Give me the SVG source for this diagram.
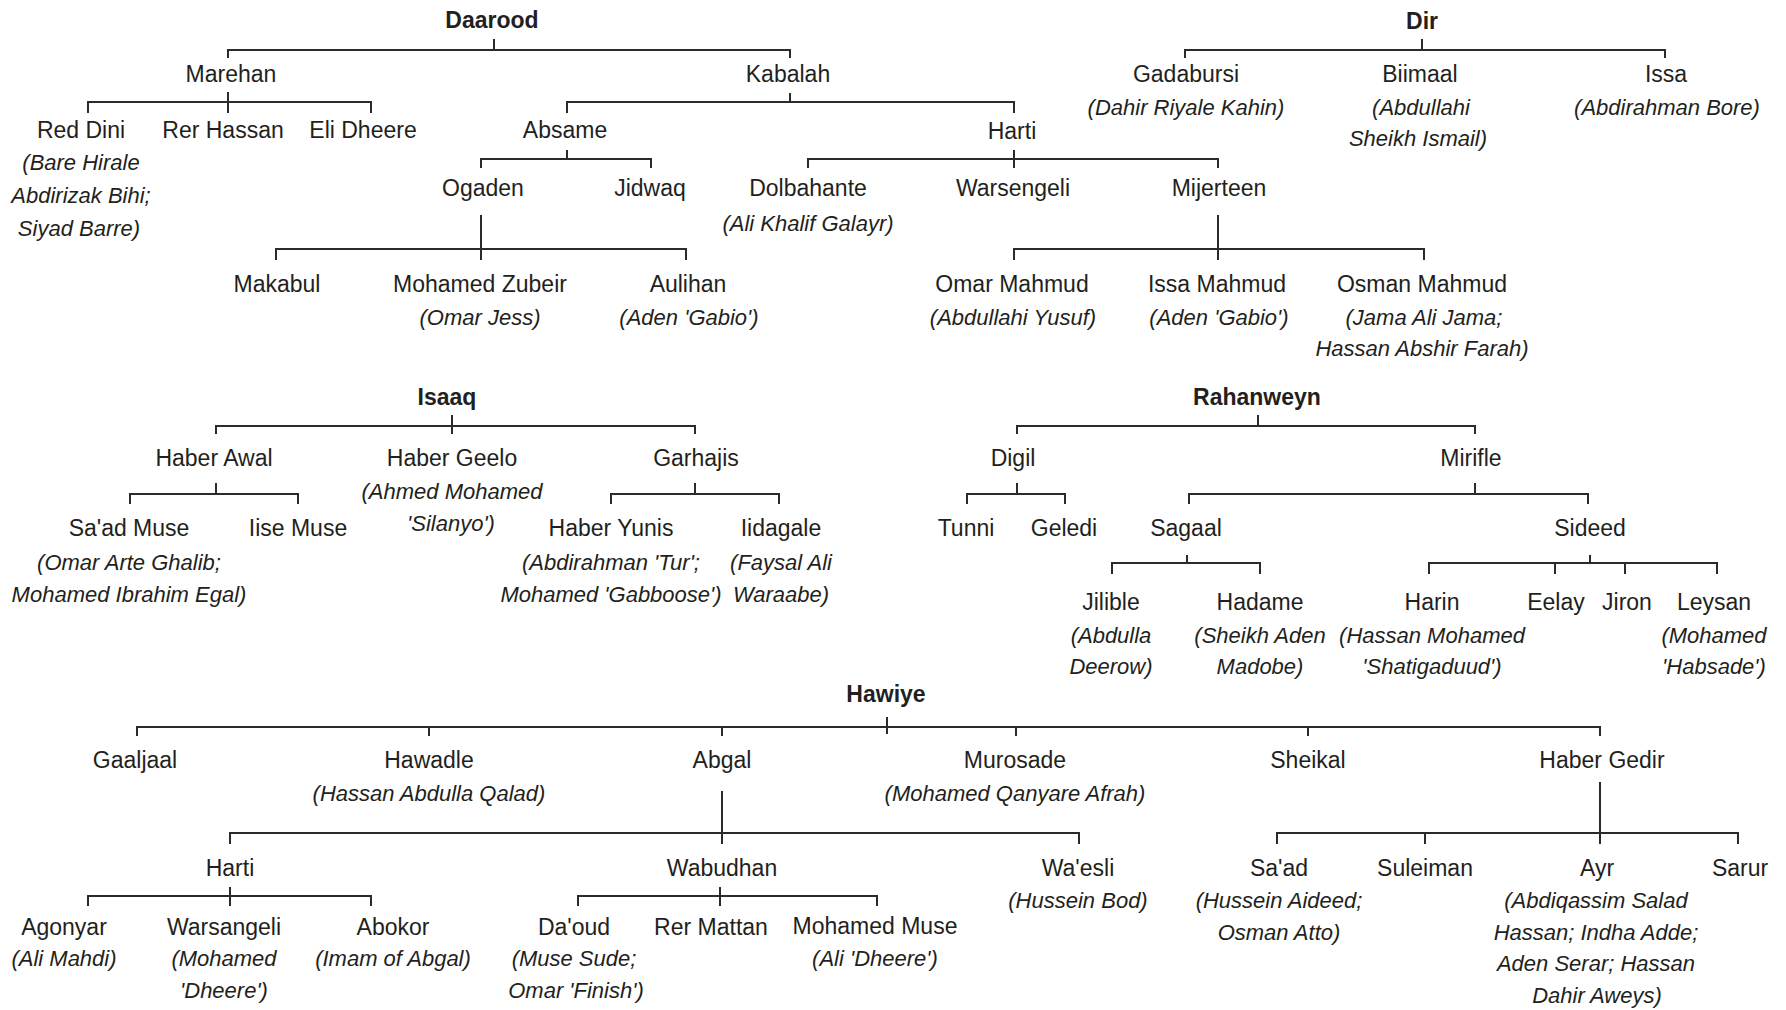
<svg xmlns="http://www.w3.org/2000/svg" width="1786" height="1010" viewBox="0 0 1786 1010">
<style>
text{font-family:"Liberation Sans",Arial,sans-serif;fill:#231f20;text-anchor:middle}
.n{font-size:23px}
.i{font-size:22px;font-style:italic}
.b{font-size:23px;font-weight:bold}
#connectors path{fill:none;stroke:#2b2b2b;stroke-width:2}
</style>
<rect width="1786" height="1010" fill="#fff"/>
<g id="connectors">
<path d="M494 39V50M228 58V50H790V58"/>
<path d="M228 92V113M88 113V102H371V113"/>
<path d="M790 93V102M567 113V102H1014V113"/>
<path d="M567 150V159M481 168V159H651V168"/>
<path d="M1014 150V168M808 168V159H1218V168"/>
<path d="M481 215V260M276 260V249H686V260"/>
<path d="M1218 215V260M1014 260V249H1424V260"/>
<path d="M1422 39V50M1185 58V50H1665V58"/>
<path d="M452 415V434M216 434V426H695V434"/>
<path d="M216 483V494M130 504V494H298V504"/>
<path d="M695 483V494M611 504V494H779V504"/>
<path d="M1258 415V426M1017 434V426H1475V434"/>
<path d="M1017 483V494M967 504V494H1065V504"/>
<path d="M1475 483V494M1189 504V494H1588V504"/>
<path d="M1187 555V563M1112 574V563H1260V574"/>
<path d="M1590 555V563M1429 574V563H1717V574M1555 563V574M1625 563V574"/>
<path d="M887 717V734M137 736V727H1600V736M429 727V736M722 727V736M1016 727V736M1308 727V736"/>
<path d="M722 791V844M230 844V833H1079V844"/>
<path d="M230 887V906M88 906V896H371V906"/>
<path d="M720 887V906M578 906V896H877V906"/>
<path d="M1600 782V844M1277 844V833H1738V844M1425 833V844"/>
</g>
<g id="daarood"><text class="b" x="492" y="28">Daarood</text></g>
<g id="marehan"><text class="n" x="231" y="82">Marehan</text></g>
<g id="kabalah"><text class="n" x="788" y="82">Kabalah</text></g>
<g id="red-dini"><text class="n" x="81" y="138">Red Dini</text><text class="i" x="81" y="170">(Bare Hirale</text><text class="i" x="81" y="203">Abdirizak Bihi;</text><text class="i" x="79" y="236">Siyad Barre)</text></g>
<g id="rer-hassan"><text class="n" x="223" y="138">Rer Hassan</text></g>
<g id="eli-dheere"><text class="n" x="363" y="138">Eli Dheere</text></g>
<g id="absame"><text class="n" x="565" y="138">Absame</text></g>
<g id="harti"><text class="n" x="1012" y="139">Harti</text></g>
<g id="ogaden"><text class="n" x="483" y="196">Ogaden</text></g>
<g id="jidwaq"><text class="n" x="650" y="196">Jidwaq</text></g>
<g id="dolbahante"><text class="n" x="808" y="196">Dolbahante</text><text class="i" x="808" y="231">(Ali Khalif Galayr)</text></g>
<g id="warsengeli"><text class="n" x="1013" y="196">Warsengeli</text></g>
<g id="mijerteen"><text class="n" x="1219" y="196">Mijerteen</text></g>
<g id="makabul"><text class="n" x="277" y="292">Makabul</text></g>
<g id="mohamed-zubeir"><text class="n" x="480" y="292">Mohamed Zubeir</text><text class="i" x="480" y="325">(Omar Jess)</text></g>
<g id="aulihan"><text class="n" x="688" y="292">Aulihan</text><text class="i" x="689" y="325">(Aden 'Gabio')</text></g>
<g id="omar-mahmud"><text class="n" x="1012" y="292">Omar Mahmud</text><text class="i" x="1013" y="325">(Abdullahi Yusuf)</text></g>
<g id="issa-mahmud"><text class="n" x="1217" y="292">Issa Mahmud</text><text class="i" x="1219" y="325">(Aden 'Gabio')</text></g>
<g id="osman-mahmud"><text class="n" x="1422" y="292">Osman Mahmud</text><text class="i" x="1424" y="325">(Jama Ali Jama;</text><text class="i" x="1422" y="356">Hassan Abshir Farah)</text></g>
<g id="dir"><text class="b" x="1422" y="29">Dir</text></g>
<g id="gadabursi"><text class="n" x="1186" y="82">Gadabursi</text><text class="i" x="1186" y="115">(Dahir Riyale Kahin)</text></g>
<g id="biimaal"><text class="n" x="1420" y="82">Biimaal</text><text class="i" x="1421" y="115">(Abdullahi</text><text class="i" x="1418" y="146">Sheikh Ismail)</text></g>
<g id="issa"><text class="n" x="1666" y="82">Issa</text><text class="i" x="1667" y="115">(Abdirahman Bore)</text></g>
<g id="isaaq"><text class="b" x="447" y="405">Isaaq</text></g>
<g id="haber-awal"><text class="n" x="214" y="466">Haber Awal</text></g>
<g id="haber-geelo"><text class="n" x="452" y="466">Haber Geelo</text><text class="i" x="452" y="499">(Ahmed Mohamed</text><text class="i" x="451" y="531">'Silanyo')</text></g>
<g id="garhajis"><text class="n" x="696" y="466">Garhajis</text></g>
<g id="saad-muse"><text class="n" x="129" y="536">Sa'ad Muse</text><text class="i" x="129" y="570">(Omar Arte Ghalib;</text><text class="i" x="129" y="602">Mohamed Ibrahim Egal)</text></g>
<g id="iise-muse"><text class="n" x="298" y="536">Iise Muse</text></g>
<g id="haber-yunis"><text class="n" x="611" y="536">Haber Yunis</text><text class="i" x="611" y="570">(Abdirahman 'Tur';</text><text class="i" x="611" y="602">Mohamed 'Gabboose')</text></g>
<g id="iidagale"><text class="n" x="781" y="536">Iidagale</text><text class="i" x="781" y="570">(Faysal Ali</text><text class="i" x="781" y="602">Waraabe)</text></g>
<g id="rahanweyn"><text class="b" x="1257" y="405">Rahanweyn</text></g>
<g id="digil"><text class="n" x="1013" y="466">Digil</text></g>
<g id="mirifle"><text class="n" x="1471" y="466">Mirifle</text></g>
<g id="tunni"><text class="n" x="966" y="536">Tunni</text></g>
<g id="geledi"><text class="n" x="1064" y="536">Geledi</text></g>
<g id="sagaal"><text class="n" x="1186" y="536">Sagaal</text></g>
<g id="sideed"><text class="n" x="1590" y="536">Sideed</text></g>
<g id="jilible"><text class="n" x="1111" y="610">Jilible</text><text class="i" x="1111" y="643">(Abdulla</text><text class="i" x="1111" y="674">Deerow)</text></g>
<g id="hadame"><text class="n" x="1260" y="610">Hadame</text><text class="i" x="1260" y="643">(Sheikh Aden</text><text class="i" x="1260" y="674">Madobe)</text></g>
<g id="harin"><text class="n" x="1432" y="610">Harin</text><text class="i" x="1432" y="643">(Hassan Mohamed</text><text class="i" x="1432" y="674">'Shatigaduud')</text></g>
<g id="eelay"><text class="n" x="1556" y="610">Eelay</text></g>
<g id="jiron"><text class="n" x="1627" y="610">Jiron</text></g>
<g id="leysan"><text class="n" x="1714" y="610">Leysan</text><text class="i" x="1714" y="643">(Mohamed</text><text class="i" x="1714" y="674">'Habsade')</text></g>
<g id="hawiye"><text class="b" x="886" y="702">Hawiye</text></g>
<g id="gaaljaal"><text class="n" x="135" y="768">Gaaljaal</text></g>
<g id="hawadle"><text class="n" x="429" y="768">Hawadle</text><text class="i" x="429" y="801">(Hassan Abdulla Qalad)</text></g>
<g id="abgal"><text class="n" x="722" y="768">Abgal</text></g>
<g id="murosade"><text class="n" x="1015" y="768">Murosade</text><text class="i" x="1015" y="801">(Mohamed Qanyare Afrah)</text></g>
<g id="sheikal"><text class="n" x="1308" y="768">Sheikal</text></g>
<g id="haber-gedir"><text class="n" x="1602" y="768">Haber Gedir</text></g>
<g id="harti-abgal"><text class="n" x="230" y="876">Harti</text></g>
<g id="wabudhan"><text class="n" x="722" y="876">Wabudhan</text></g>
<g id="waesli"><text class="n" x="1078" y="876">Wa'esli</text><text class="i" x="1078" y="908">(Hussein Bod)</text></g>
<g id="agonyar"><text class="n" x="64" y="935">Agonyar</text><text class="i" x="64" y="966">(Ali Mahdi)</text></g>
<g id="warsangeli"><text class="n" x="224" y="935">Warsangeli</text><text class="i" x="224" y="966">(Mohamed</text><text class="i" x="224" y="998">'Dheere')</text></g>
<g id="abokor"><text class="n" x="393" y="935">Abokor</text><text class="i" x="393" y="966">(Imam of Abgal)</text></g>
<g id="daoud"><text class="n" x="574" y="935">Da'oud</text><text class="i" x="574" y="966">(Muse Sude;</text><text class="i" x="576" y="998">Omar 'Finish')</text></g>
<g id="rer-mattan"><text class="n" x="711" y="935">Rer Mattan</text></g>
<g id="mohamed-muse"><text class="n" x="875" y="934">Mohamed Muse</text><text class="i" x="875" y="966">(Ali 'Dheere')</text></g>
<g id="saad"><text class="n" x="1279" y="876">Sa'ad</text><text class="i" x="1279" y="908">(Hussein Aideed;</text><text class="i" x="1279" y="940">Osman Atto)</text></g>
<g id="suleiman"><text class="n" x="1425" y="876">Suleiman</text></g>
<g id="ayr"><text class="n" x="1597" y="876">Ayr</text><text class="i" x="1596" y="908">(Abdiqassim Salad</text><text class="i" x="1596" y="940">Hassan; Indha Adde;</text><text class="i" x="1596" y="971">Aden Serar; Hassan</text><text class="i" x="1597" y="1003">Dahir Aweys)</text></g>
<g id="sarur"><text class="n" x="1740" y="876">Sarur</text></g>
</svg>
